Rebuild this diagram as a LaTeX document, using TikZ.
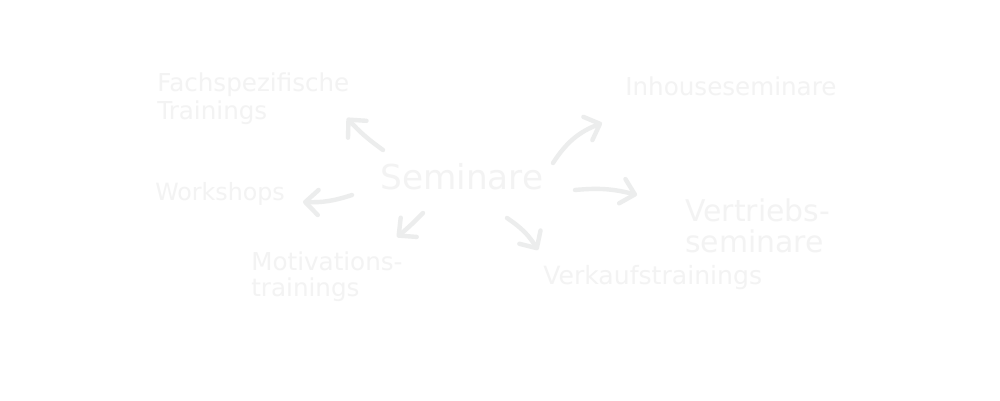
\documentclass[tikz,border=0pt]{standalone}
\usepackage{fontspec}
\setmainfont{DejaVu Sans}
\usetikzlibrary{arrows.meta}
\definecolor{txt}{RGB}{243,243,243}
\definecolor{arr}{RGB}{236,237,237}
\begin{document}
\begin{tikzpicture}[x=0.02cm,y=-0.02cm,
  lbl/.style={anchor=west,inner sep=0,text=txt,align=left,font=\fontsize{14}{16}\selectfont},
  conn/.style={draw=arr,line width=2.5pt,line cap=round,line join=round,
    -{Straight Barb[length=2.6mm,width=5mm,round]}}]
\useasboundingbox[fill=white] (0,0) rectangle (1000,400);
% labels
\node[lbl] (fach) at (157,99) {Fachspezifische\\Trainings};
\node[lbl] (inh) at (625,86) {Inhouseseminare};
\node[lbl,font=\fontsize{19.5}{22}\selectfont] (sem) at (380,177) {Seminare};
\node[lbl,font=\fontsize{13.5}{16}\selectfont] (work) at (155,194) {Workshops};
\node[lbl,font=\fontsize{17}{17.6}\selectfont] (vert) at (685,226) {Vertriebs-\\seminare};
\node[lbl,font=\fontsize{14}{14.8}\selectfont] (moti) at (251,277) {Motivations-\\trainings};
\node[lbl,font=\fontsize{14.3}{16}\selectfont] (verk) at (543,278) {Verkaufstrainings};
% arrow end points
\coordinate (a1s) at (383,150); \coordinate (a1e) at (347,118);
\coordinate (a2s) at (553,163); \coordinate (a2e) at (602,123);
\coordinate (a3s) at (352,195); \coordinate (a3e) at (303,202);
\coordinate (a4s) at (575,190); \coordinate (a4e) at (637,195);
\coordinate (a5s) at (423,213); \coordinate (a5e) at (397,237);
\coordinate (a6s) at (507,218); \coordinate (a6e) at (538,250);
% arrows
\draw[conn] (a1s) to[bend left=6] (a1e);
\draw[conn] (a2s) to[bend left=18] (a2e);
\draw[conn] (a3s) to[bend left=10] (a3e);
\draw[conn] (a4s) to[bend left=10] (a4e);
\draw[conn] (a5s) to[bend left=3] (a5e);
\draw[conn] (a6s) to[bend left=12] (a6e);
\end{tikzpicture}
\end{document}
